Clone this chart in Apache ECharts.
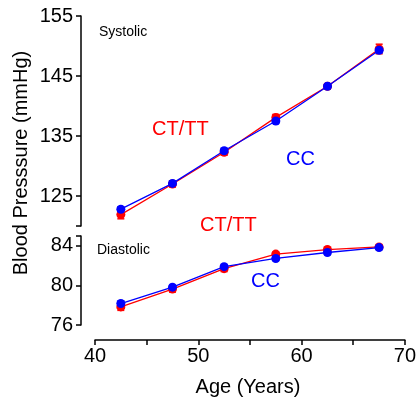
<!DOCTYPE html>
<html><head><meta charset="utf-8">
<script src="https://cdn.jsdelivr.net/npm/echarts@6/dist/echarts.min.js"></script>
<style>html,body{margin:0;padding:0;background:#fff}#c{width:419px;height:401px}</style>
</head><body><div id="c"></div>
<script>
var ages = [42.5, 47.5, 52.5, 57.5, 62.5, 67.5];
var sysCC = [122.8, 127.1, 132.55, 137.5, 143.3, 149.3];
var sysCT = [121.9, 127.0, 132.3, 138.1, 143.3, 149.5];
var sysCCerr = [0.4, 0.4, 0.4, 0.4, 0.4, 0.4];
var sysCTerr = [0.7, 0.5, 0.5, 0.5, 0.4, 0.8];
var diaCC = [78.17, 79.83, 81.9, 82.73, 83.33, 83.83];
var diaCT = [77.83, 79.63, 81.7, 83.17, 83.63, 83.9];
var diaCCerr = [0.25, 0.2, 0.2, 0.2, 0.2, 0.2];
var diaCTerr = [0.35, 0.3, 0.3, 0.2, 0.2, 0.2];
var xTicks = [40, 45, 50, 55, 60, 65, 70];
var xLabels = [40, 50, 60, 70];
var sysTicks = [120, 125, 135, 145, 155];
var sysLabels = [125, 135, 145, 155];
var diaTicks = [76, 80, 84, 85];
var diaLabels = [76, 80, 84];

var RED = '#ff0000', BLUE = '#0000ff';
var FONT = 'Liberation Sans, Arial, sans-serif';

function pairs(ys) { return ages.map(function (a, i) { return [a, ys[i]]; }); }
function errData(ys, es) { return ages.map(function (a, i) { return [a, ys[i] - es[i], ys[i] + es[i]]; }); }
function errSeries(ys, es, color, gi) {
  return {
    type: 'custom', xAxisIndex: gi, yAxisIndex: gi, z: 1,
    data: errData(ys, es),
    renderItem: function (params, api) {
      var lo = api.coord([api.value(0), api.value(1)]);
      var hi = api.coord([api.value(0), api.value(2)]);
      var w = 3.5;
      var st = { stroke: color, lineWidth: 1.5 };
      return { type: 'group', children: [
        { type: 'line', shape: { x1: lo[0], y1: lo[1], x2: hi[0], y2: hi[1] }, style: st },
        { type: 'line', shape: { x1: lo[0] - w, y1: lo[1], x2: lo[0] + w, y2: lo[1] }, style: st },
        { type: 'line', shape: { x1: hi[0] - w, y1: hi[1], x2: hi[0] + w, y2: hi[1] }, style: st }
      ]};
    }
  };
}
function lineSeries(ys, color, gi, z) {
  return {
    type: 'line', xAxisIndex: gi, yAxisIndex: gi, z: z,
    data: pairs(ys), symbol: 'circle', symbolSize: 9,
    lineStyle: { color: color, width: 1.3 },
    itemStyle: { color: color },
    animation: false
  };
}
var axisLine = { show: true, lineStyle: { color: '#000', width: 1.5 } };
var axisTickBase = { show: true, inside: false, length: 5, lineStyle: { color: '#000', width: 1.5 } };

var chart = echarts.init(document.getElementById('c'), null, { renderer: 'canvas' });
chart.setOption({
  animation: false,
  grid: [
    { left: 95, top: 16, width: 310, height: 210 },
    { left: 95, top: 236, width: 310, height: 89 }
  ],
  xAxis: [
    { gridIndex: 0, type: 'value', min: 40, max: 70, show: false },
    { gridIndex: 1, type: 'value', min: 40, max: 70, position: 'bottom', offset: 15,
      axisLine: axisLine,
      axisTick: Object.assign({}, axisTickBase, { customValues: xTicks }),
      axisLabel: { customValues: xLabels, color: '#000', fontSize: 20, fontFamily: FONT, margin: 6 },
      splitLine: { show: false } }
  ],
  yAxis: [
    { gridIndex: 0, type: 'value', min: 120, max: 155, position: 'left', offset: 14,
      axisLine: axisLine,
      axisTick: Object.assign({}, axisTickBase, { customValues: sysTicks }),
      axisLabel: { customValues: sysLabels, color: '#000', fontSize: 20, fontFamily: FONT, margin: 8 },
      splitLine: { show: false } },
    { gridIndex: 1, type: 'value', min: 76, max: 85, position: 'left', offset: 14,
      axisLine: axisLine,
      axisTick: Object.assign({}, axisTickBase, { customValues: diaTicks }),
      axisLabel: { customValues: diaLabels, color: '#000', fontSize: 20, fontFamily: FONT, margin: 8 },
      splitLine: { show: false } }
  ],
  series: [
    errSeries(sysCT, sysCTerr, RED, 0),
    errSeries(sysCC, sysCCerr, BLUE, 0),
    lineSeries(sysCT, RED, 0, 2),
    lineSeries(sysCC, BLUE, 0, 3),
    errSeries(diaCT, diaCTerr, RED, 1),
    errSeries(diaCC, diaCCerr, BLUE, 1),
    lineSeries(diaCT, RED, 1, 2),
    lineSeries(diaCC, BLUE, 1, 3)
  ],
  graphic: [
    { type: 'text', left: 99, top: 25, style: { text: 'Systolic', fill: '#000', font: '14px ' + FONT } },
    { type: 'text', left: 97, top: 243, style: { text: 'Diastolic', fill: '#000', font: '14px ' + FONT } },
    { type: 'text', left: 152, top: 119, style: { text: 'CT/TT', fill: RED, font: '20px ' + FONT } },
    { type: 'text', left: 286, top: 149, style: { text: 'CC', fill: BLUE, font: '20px ' + FONT } },
    { type: 'text', left: 200, top: 215, style: { text: 'CT/TT', fill: RED, font: '20px ' + FONT } },
    { type: 'text', left: 251, top: 271, style: { text: 'CC', fill: BLUE, font: '20px ' + FONT } },
    { type: 'text', x: 248, y: 387, style: { text: 'Age (Years)', fill: '#000', font: '20px ' + FONT, align: 'center', verticalAlign: 'middle' } },
    { type: 'text', x: 21, y: 163, rotation: Math.PI / 2, style: { text: 'Blood Presssure (mmHg)', fill: '#000', font: '20px ' + FONT, align: 'center', verticalAlign: 'middle' } }
  ]
});
</script>
</body></html>
